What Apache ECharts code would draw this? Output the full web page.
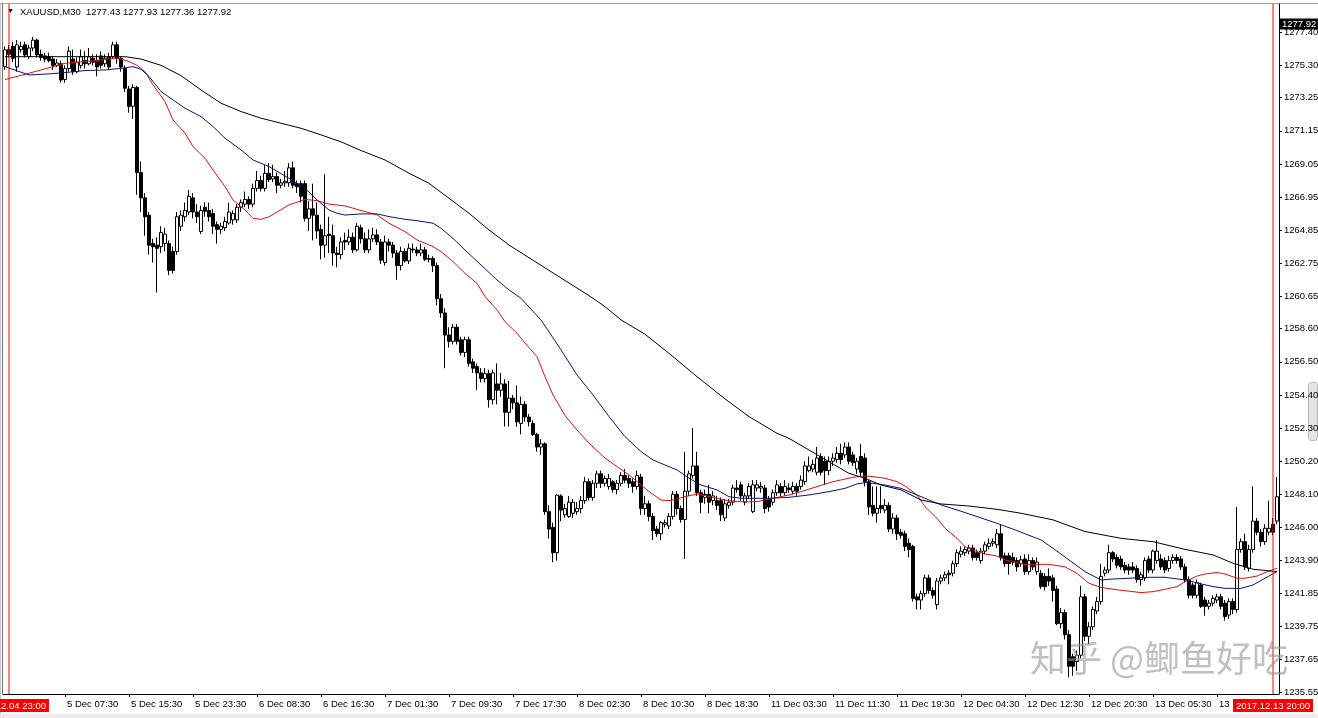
<!DOCTYPE html>
<html><head><meta charset="utf-8">
<script src="https://cdn.jsdelivr.net/npm/echarts@6/dist/echarts.min.js"></script>
<style>html,body{margin:0;padding:0;background:#fff;overflow:hidden}#c{width:1318px;height:718px}</style>
</head><body><div id="c"></div>
<script>
// ---------- DATA ----------
const symbolName = 'XAUUSD,M30';
const headerOHLC = ['1277.43', '1277.93', '1277.36', '1277.92'];
const bidPrice = 1277.92;

// time-axis labels, one every 16 bars starting at bar 15
const timeLabels = ['5 Dec 07:30','5 Dec 15:30','5 Dec 23:30','6 Dec 08:30','6 Dec 16:30','7 Dec 01:30','7 Dec 09:30','7 Dec 17:30','8 Dec 02:30','8 Dec 10:30','8 Dec 18:30','11 Dec 03:30','11 Dec 11:30','11 Dec 19:30','12 Dec 04:30','12 Dec 12:30','12 Dec 20:30','13 Dec 05:30','13 Dec 13:30'];
const firstLabelBar = 15, labelStep = 16;

// price-axis tick labels
const priceTicks = ['1235.55','1237.65','1239.75','1241.85','1243.90','1246.00','1248.10','1250.20','1252.30','1254.40','1256.50','1258.60','1260.65','1262.75','1264.85','1266.95','1269.05','1271.15','1273.25','1275.30','1277.40'];
const yMin = 1235.44, yMax = 1279.19;

// vertical line objects (bar index, label)
const vLineBars = [1, 317];
const vLineLabels = ['2017.12.04 23:00', '2017.12.13 20:00'];

const opens = [
1275.22,1276.3,1276.5,1275.2,1276.3,1276.6,1275.85,1276.4,1276.9,1276.0,1275.9,1275.85,1275.7,1275.3,1275.4,1274.4,
1275.1,1275.7,1274.9,1275.3,1275.6,1275.4,1275.75,1275.6,1275.9,1275.4,1275.85,1275.85,1276.6,1275.75,1275.1,1273.8,
1272.7,1273.9,1268.5,1266.9,1265.8,1264.0,1263.9,1263.8,1264.0,1264.0,1263.5,1263.5,1265.1,1265.7,1266.0,1266.9,
1266.0,1264.76,1266.3,1266.1,1265.9,1265.2,1264.9,1265.0,1265.3,1265.5,1265.5,1266.3,1266.5,1266.8,1266.5,1267.5,
1268.0,1267.5,1268.45,1268.1,1268.25,1267.7,1267.85,1267.85,1268.8,1267.8,1267.8,1267.8,1265.6,1266.2,1265.8,1264.9,
1263.9,1264.6,1264.5,1263.4,1263.3,1264.2,1264.1,1264.4,1263.6,1265.0,1264.3,1263.6,1264.3,1264.55,1264.1,1262.8,
1264.1,1263.9,1263.4,1262.6,1263.5,1262.9,1263.65,1263.6,1263.4,1263.6,1263.05,1263.05,1262.6,1260.5,1259.6,1258.2,
1257.8,1258.7,1257.9,1257.1,1257.9,1256.5,1256.2,1255.8,1255.45,1255.75,1254.1,1255.1,1254.7,1255.1,1253.3,1254.2,
1253.9,1252.6,1253.8,1253.0,1252.6,1251.9,1251.1,1251.3,1247.0,1246.0,1244.4,1248.0,1246.8,1246.7,1246.9,1247.0,
1247.2,1247.7,1248.9,1247.9,1248.8,1249.4,1248.8,1248.6,1248.9,1248.4,1248.8,1249.3,1249.1,1248.9,1248.6,1249.2,
1247.2,1247.5,1246.7,1245.9,1245.6,1246.2,1246.1,1246.7,1248.1,1247.2,1246.5,1248.3,1249.3,1249.9,1248.2,1247.9,
1248.1,1247.7,1247.7,1247.7,1246.6,1247.4,1247.6,1248.5,1248.7,1247.6,1248.0,1247.0,1248.5,1248.5,1248.5,1247.8,
1247.6,1248.2,1248.6,1248.2,1248.5,1248.3,1248.6,1248.6,1248.9,1249.6,1249.7,1249.5,1250.5,1250.2,1249.6,1250.2,
1250.3,1250.7,1250.6,1251.1,1250.6,1249.7,1250.5,1250.4,1248.9,1247.4,1246.9,1247.4,1247.1,1247.4,1245.9,1246.6,
1245.7,1245.6,1245.0,1244.8,1241.6,1241.4,1241.8,1242.8,1242.0,1241.1,1242.6,1242.8,1243.1,1243.1,1243.7,1244.3,
1244.4,1244.5,1244.7,1244.4,1243.9,1244.5,1244.8,1245.0,1244.9,1245.6,1244.2,1244.2,1244.1,1243.9,1243.7,1244.0,
1243.2,1243.9,1243.2,1243.1,1242.9,1242.9,1242.8,1242.1,1239.9,1240.6,1239.2,1237.8,1237.5,1237.9,1241.6,1239.1,
1239.7,1240.7,1241.3,1243.1,1243.3,1244.4,1244.1,1244.0,1243.6,1243.5,1243.5,1243.4,1242.7,1242.8,1244.0,1243.3,
1243.9,1244.0,1243.9,1243.4,1243.9,1244.1,1244.0,1243.5,1242.7,1242.35,1241.7,1242.35,1241.4,1241.0,1241.2,1241.4,
1241.6,1241.2,1240.45,1241.3,1240.8,1244.6,1245.1,1243.4,1244.6,1246.4,1245.7,1245.1,1245.7,1246.2,1246.4];

const highs = [
1276.5,1276.6,1276.8,1276.9,1276.8,1276.8,1276.6,1277.1,1277.0,1276.3,1276.1,1276.1,1275.9,1275.7,1275.6,1275.3,
1276.5,1276.3,1275.8,1276.3,1276.2,1276.4,1276.0,1276.0,1276.2,1276.0,1276.1,1276.8,1276.8,1275.9,1275.3,1274.0,
1274.1,1274.0,1269.2,1267.2,1266.0,1264.3,1264.4,1265.1,1265.0,1264.2,1263.8,1266.0,1266.1,1266.6,1267.4,1267.2,
1266.5,1266.4,1266.6,1266.6,1266.2,1265.4,1265.3,1265.7,1266.6,1266.1,1266.5,1266.8,1267.3,1267.0,1267.8,1268.6,
1268.3,1269.0,1269.1,1269.0,1268.5,1268.1,1268.6,1269.1,1269.2,1268.0,1268.0,1268.0,1266.7,1267.8,1266.6,1265.2,
1268.4,1265.7,1265.2,1263.8,1264.4,1264.7,1264.9,1264.7,1265.3,1265.2,1264.7,1264.9,1265.0,1264.9,1264.3,1264.5,
1264.3,1264.1,1263.6,1263.8,1263.7,1264.0,1264.0,1263.8,1264.0,1263.8,1263.3,1263.2,1262.8,1260.8,1259.9,1258.7,
1258.9,1258.9,1258.1,1258.1,1258.1,1256.7,1256.4,1256.1,1256.1,1256.0,1256.0,1256.4,1255.8,1255.4,1255.3,1254.4,
1255.0,1254.3,1254.0,1253.2,1252.8,1252.0,1251.6,1251.4,1247.4,1246.3,1248.1,1248.1,1247.5,1248.0,1247.8,1247.6,
1248.0,1249.2,1249.1,1249.0,1249.6,1249.6,1249.3,1249.4,1249.0,1249.0,1249.5,1249.7,1249.3,1249.1,1249.6,1249.4,
1248.0,1247.7,1246.9,1246.1,1246.4,1246.5,1246.9,1248.3,1248.3,1247.4,1250.8,1249.6,1252.3,1250.8,1248.4,1248.4,
1248.7,1248.3,1248.0,1247.9,1247.8,1247.8,1248.7,1249.0,1248.9,1248.2,1248.8,1249.0,1249.0,1248.9,1248.7,1248.0,
1248.4,1249.0,1248.8,1249.0,1248.8,1248.9,1248.8,1249.3,1250.2,1250.5,1250.3,1251.1,1250.7,1250.5,1250.5,1250.7,
1251.1,1251.3,1251.4,1251.4,1250.8,1250.4,1251.3,1250.7,1249.0,1248.6,1248.6,1248.6,1247.8,1247.6,1246.9,1246.8,
1245.9,1245.8,1245.3,1244.9,1241.8,1242.0,1243.0,1243.0,1242.2,1242.8,1243.0,1243.2,1243.3,1243.9,1244.6,1244.8,
1244.8,1244.9,1244.9,1244.6,1244.7,1245.1,1245.3,1245.3,1245.9,1246.2,1244.4,1244.4,1244.4,1244.1,1244.2,1244.3,
1244.3,1244.1,1244.1,1243.3,1243.1,1243.4,1243.0,1242.3,1240.9,1240.8,1239.5,1238.0,1238.2,1242.3,1241.8,1240.0,
1241.0,1241.6,1243.7,1243.5,1244.9,1244.5,1244.3,1244.2,1243.8,1243.7,1243.8,1243.6,1243.2,1244.1,1244.2,1244.6,
1245.2,1244.3,1244.1,1244.2,1244.3,1244.3,1244.2,1243.7,1242.9,1242.5,1242.7,1242.5,1241.6,1241.4,1241.7,1241.8,
1241.8,1241.4,1241.5,1241.5,1247.3,1245.3,1245.6,1244.9,1248.6,1246.6,1245.9,1246.2,1247.7,1246.6,1249.2];

const lows = [
1275.0,1275.8,1275.5,1274.9,1276.1,1275.8,1275.7,1276.2,1275.8,1275.6,1275.5,1275.5,1275.0,1275.2,1274.2,1274.2,
1274.9,1274.7,1274.8,1275.1,1275.1,1275.3,1275.3,1274.6,1275.1,1275.2,1275.0,1275.7,1275.4,1274.9,1273.6,1272.3,
1271.9,1267.1,1266.0,1264.5,1263.3,1262.8,1260.9,1263.4,1263.5,1262.0,1262.1,1263.3,1264.8,1265.4,1265.8,1265.6,
1265.3,1264.6,1265.7,1265.4,1264.6,1264.0,1264.6,1264.8,1265.2,1265.2,1265.3,1266.0,1266.3,1266.2,1266.3,1267.3,
1267.3,1267.3,1267.9,1267.9,1267.2,1267.5,1267.6,1267.6,1267.5,1267.2,1266.6,1265.4,1264.8,1264.2,1264.3,1263.0,
1263.1,1263.4,1262.6,1262.5,1263.0,1263.6,1263.9,1263.4,1263.5,1264.0,1263.4,1263.4,1264.1,1263.9,1262.7,1262.6,
1263.5,1263.1,1261.7,1262.3,1262.8,1262.7,1263.4,1263.2,1263.2,1262.9,1262.8,1262.2,1260.1,1259.3,1256.1,1257.4,
1257.6,1257.6,1256.9,1256.8,1256.2,1255.8,1254.7,1255.2,1255.2,1253.6,1253.8,1253.8,1254.3,1252.4,1252.4,1253.5,
1252.4,1251.9,1252.7,1252.4,1251.8,1250.8,1250.6,1246.8,1245.3,1243.8,1243.9,1246.4,1246.6,1246.6,1246.6,1246.8,
1246.9,1247.5,1247.7,1247.7,1248.5,1248.5,1248.6,1248.4,1248.2,1248.1,1248.6,1248.8,1248.5,1248.2,1248.4,1246.8,
1246.8,1246.4,1245.2,1245.4,1245.2,1246.0,1245.9,1246.5,1246.8,1246.3,1244.0,1248.0,1249.1,1248.0,1246.9,1247.5,
1246.9,1247.4,1247.1,1246.4,1246.4,1247.2,1247.4,1248.2,1247.7,1247.4,1247.8,1246.9,1248.3,1248.2,1246.9,1247.0,
1247.4,1248.0,1248.0,1248.0,1248.2,1248.1,1248.0,1248.4,1248.7,1249.5,1249.5,1249.3,1249.3,1248.7,1249.3,1249.9,
1250.1,1250.0,1250.4,1250.0,1249.9,1249.4,1249.2,1248.6,1246.8,1246.7,1246.3,1246.9,1246.9,1245.7,1245.6,1245.2,
1245.3,1244.5,1244.1,1241.3,1240.8,1240.8,1241.6,1241.8,1241.5,1240.8,1242.4,1242.6,1242.4,1242.9,1243.5,1244.1,
1244.2,1244.3,1243.9,1243.9,1243.7,1244.3,1244.6,1244.8,1244.7,1243.9,1243.5,1243.0,1243.6,1243.2,1243.5,1243.0,
1243.0,1243.3,1243.0,1242.1,1242.0,1242.3,1241.3,1239.8,1239.6,1238.9,1236.5,1236.6,1236.9,1237.7,1238.8,1238.6,
1239.5,1240.5,1241.1,1242.9,1243.1,1243.8,1243.4,1243.3,1243.1,1243.0,1243.1,1242.5,1242.3,1242.6,1243.1,1243.1,
1243.7,1243.3,1243.1,1243.2,1243.7,1243.7,1243.3,1242.5,1241.5,1241.5,1241.5,1240.9,1240.4,1240.8,1241.0,1241.2,
1240.8,1240.1,1240.2,1240.5,1240.6,1244.4,1243.3,1243.2,1244.4,1245.5,1244.8,1244.9,1245.5,1245.5,1246.2];

const closes = [
1276.28,1276.0,1275.75,1276.6,1276.5,1275.96,1276.4,1276.9,1275.96,1275.8,1275.7,1275.6,1275.3,1275.45,1274.37,1275.1,
1276.2,1274.9,1275.5,1275.85,1275.4,1275.85,1275.5,1275.2,1275.3,1275.75,1275.2,1276.6,1275.75,1275.2,1273.85,1272.7,
1273.9,1268.5,1266.9,1265.7,1263.9,1263.8,1263.7,1264.7,1264.6,1262.3,1262.3,1265.7,1265.8,1266.1,1267.0,1266.0,
1265.7,1266.1,1266.05,1265.7,1265.1,1264.9,1265.1,1265.4,1266.0,1265.9,1266.3,1266.6,1266.8,1266.5,1267.5,1268.0,
1267.5,1268.45,1268.05,1268.25,1267.7,1267.85,1267.95,1268.8,1267.7,1267.6,1267.0,1265.6,1266.2,1265.8,1264.8,1263.9,
1264.5,1264.5,1263.4,1263.3,1264.1,1264.1,1264.4,1263.6,1265.1,1264.3,1263.6,1264.3,1264.55,1264.1,1262.95,1264.1,
1263.9,1263.4,1262.6,1263.5,1262.9,1263.7,1263.6,1263.4,1263.6,1263.0,1263.0,1262.6,1260.5,1259.6,1258.2,1257.8,
1258.7,1257.8,1257.1,1257.9,1256.4,1256.1,1255.8,1255.45,1255.75,1254.1,1255.8,1254.7,1255.1,1253.3,1254.2,1253.9,
1252.7,1253.8,1253.0,1252.7,1251.9,1251.1,1251.3,1247.0,1245.9,1244.4,1248.05,1247.1,1247.2,1247.6,1247.6,1247.2,
1247.7,1248.9,1247.9,1248.8,1249.4,1248.8,1249.1,1249.1,1248.4,1248.8,1249.3,1249.0,1248.8,1248.6,1249.3,1247.2,
1247.5,1246.7,1245.8,1245.6,1246.3,1246.3,1246.7,1248.1,1247.2,1246.5,1248.3,1249.4,1249.9,1248.2,1247.6,1248.1,
1247.6,1248.0,1247.4,1246.8,1247.5,1247.6,1248.5,1248.4,1248.0,1248.0,1248.6,1248.7,1248.7,1248.6,1247.2,1247.3,
1248.2,1248.7,1248.2,1248.6,1248.4,1248.6,1248.3,1249.0,1249.9,1249.9,1250.0,1250.4,1249.5,1249.6,1250.2,1250.4,
1250.7,1250.3,1251.1,1250.2,1250.1,1250.2,1249.5,1248.9,1247.3,1246.9,1247.2,1247.2,1247.4,1245.9,1246.6,1245.6,
1245.5,1244.8,1244.6,1241.5,1241.4,1241.8,1242.8,1242.0,1241.7,1242.6,1242.8,1243.0,1243.0,1243.7,1244.4,1244.5,
1244.6,1244.7,1244.1,1244.1,1244.5,1244.9,1245.0,1245.1,1245.6,1244.1,1243.7,1243.7,1243.8,1243.5,1243.95,1243.2,
1243.9,1243.5,1243.8,1242.25,1242.25,1242.6,1242.0,1239.9,1240.6,1239.2,1237.2,1237.2,1237.9,1241.6,1239.1,1239.7,
1240.8,1241.3,1242.9,1243.3,1244.4,1244.0,1243.6,1243.5,1243.3,1243.3,1243.3,1242.7,1243.0,1243.9,1243.3,1244.5,
1244.5,1243.5,1243.3,1243.9,1244.1,1243.9,1243.5,1242.7,1241.7,1241.7,1242.5,1241.0,1241.0,1241.2,1241.5,1241.6,
1241.0,1240.35,1241.3,1240.8,1244.6,1245.1,1243.5,1244.6,1246.4,1245.7,1245.1,1245.95,1245.95,1245.7,1247.95];

// moving averages: [bar index, price]
const maRed = [[0,1274.4],[6,1274.8],[12,1275.22],[15,1275.43],[20,1275.54],[24,1275.64],[27,1275.75],[29,1275.7],[31,1275.54],[33,1275.3],[35,1274.9],[37,1274.06],[40,1273.0],[42,1271.84],[45,1271.0],[47,1270.15],[50,1269.41],[52,1268.67],[55,1267.61],[57,1266.77],[60,1266.13],[62,1265.6],[64,1265.54],[66,1265.7],[68,1266.0],[71,1266.45],[75,1266.8],[78,1266.72],[81,1266.5],[85,1266.39],[88,1266.17],[90,1266.03],[93,1265.82],[96,1265.29],[100,1264.76],[103,1264.23],[107,1263.81],[109,1263.49],[112,1262.86],[115,1262.11],[118,1261.48],[120,1260.64],[123,1259.79],[125,1259.05],[128,1258.31],[130,1257.7],[133,1256.83],[135,1255.56],[137,1254.4],[140,1253.1],[143,1252.18],[146,1251.34],[150,1250.4],[153,1249.86],[156,1249.33],[159,1248.7],[161,1248.27],[164,1247.74],[166,1247.7],[168,1247.81],[170,1247.95],[173,1248.12],[175,1248.02],[178,1247.85],[180,1247.74],[183,1247.64],[186,1247.62],[188,1247.64],[190,1247.74],[193,1247.9],[196,1248.06],[199,1248.27],[203,1248.59],[207,1248.9],[212,1249.18],[215,1249.27],[217,1249.22],[220,1249.12],[223,1248.9],[225,1248.63],[228,1248.06],[230,1247.32],[233,1246.58],[235,1245.95],[238,1245.31],[240,1244.78],[243,1244.47],[245,1244.32],[248,1244.19],[250,1243.94],[253,1243.79],[255,1243.66],[261,1243.66],[265,1243.5],[268,1243.09],[271,1242.46],[274,1242.2],[277,1242.08],[280,1241.99],[284,1241.87],[287,1241.93],[290,1242.08],[293,1242.25],[295,1242.56],[298,1242.92],[300,1243.05],[303,1243.14],[305,1243.05],[308,1242.78],[310,1242.78],[313,1242.92],[315,1243.14],[318,1243.41]];
const maBlue = [[0,1275.22],[6,1274.69],[11,1274.76],[15,1274.84],[20,1274.97],[25,1275.01],[29,1275.11],[32,1275.22],[34,1275.05],[36,1274.6],[39,1273.64],[42,1273.11],[45,1272.58],[49,1272.05],[52,1271.42],[55,1270.68],[59,1269.94],[62,1269.3],[66,1268.88],[71,1268.14],[75,1267.5],[78,1266.77],[81,1266.13],[83,1265.92],[85,1265.81],[89,1265.88],[93,1265.88],[96,1265.71],[100,1265.54],[103,1265.45],[107,1265.29],[109,1264.97],[112,1264.33],[115,1263.59],[119,1262.64],[123,1261.69],[126,1261.06],[129,1260.53],[132,1259.7],[134,1259.16],[139,1257.26],[143,1255.67],[147,1254.4],[151,1253.03],[155,1251.76],[159,1250.81],[162,1250.28],[165,1249.96],[168,1249.65],[171,1249.12],[174,1248.69],[178,1248.38],[181,1247.95],[184,1247.85],[188,1247.85],[191,1247.85],[196,1247.91],[201,1248.06],[206,1248.27],[210,1248.48],[213,1248.76],[215,1248.84],[217,1248.8],[220,1248.69],[224,1248.48],[228,1248.06],[231,1247.74],[234,1247.43],[238,1247.11],[243,1246.69],[248,1246.26],[253,1245.8],[256,1245.5],[259,1245.21],[262,1244.68],[266,1243.94],[270,1243.2],[274,1242.67],[277,1242.73],[281,1242.78],[286,1242.84],[290,1242.84],[295,1242.67],[299,1242.42],[302,1242.25],[305,1242.14],[309,1242.14],[312,1242.35],[315,1242.78],[318,1243.2]];
const maBlack = [[0,1275.85],[15,1275.85],[30,1275.85],[34,1275.7],[39,1275.3],[44,1274.65],[49,1273.74],[54,1272.9],[59,1272.37],[64,1271.95],[69,1271.63],[74,1271.31],[79,1270.89],[84,1270.45],[89,1269.9],[95,1269.3],[101,1268.46],[106,1267.82],[111,1266.87],[116,1265.92],[121,1264.86],[126,1263.91],[131,1263.1],[136,1262.3],[141,1261.5],[146,1260.7],[150,1260.0],[154,1259.16],[160,1258.25],[166,1257.04],[173,1255.56],[180,1254.15],[186,1253.03],[193,1251.97],[196,1251.65],[201,1250.91],[206,1250.17],[211,1249.43],[215,1249.12],[219,1248.69],[224,1248.38],[229,1247.74],[234,1247.49],[241,1247.36],[248,1247.15],[254,1246.9],[262,1246.48],[270,1245.74],[279,1245.31],[287,1245.1],[295,1244.61],[302,1244.26],[307,1243.73],[312,1243.35],[318,1243.2]];

// ---------- CHART ----------
const FONT = '"Liberation Sans", Arial, sans-serif';
const RED = '#ff0000';
const categories = opens.map((_, i) => String(i));
function labelFor(i) {
  const k = (i - firstLabelBar) / labelStep;
  return (Number.isInteger(k) && k >= 0 && k < timeLabels.length) ? timeLabels[k] : '';
}
const candleData = opens.map((o, i) => [o, closes[i], lows[i], highs[i]]);
const tickValues = priceTicks.map(Number);

const chart = echarts.init(document.getElementById('c'), null, {renderer: 'canvas'});
const lineSeries = (name, data, color, extra) => Object.assign({
  name, type: 'line', data, showSymbol: false, symbol: 'none', smooth: false, color,
  lineStyle: {color, width: 1}, itemStyle: {color}, z: 3, silent: true
}, extra || {});
const vLabel = (text) => ({show: true, position: 'start', distance: 5, formatter: text, color: '#fff', backgroundColor: '#ff0000',
  padding: [2, 3, 1, 3], fontSize: 9.5, fontFamily: FONT});

// vertical lines drawn as two-point line series at their bar index
const vLineSeries = vLineBars.map((b, k) => ({
  type: 'line', data: [[b, yMin], [b, yMax]], silent: true, z: 4,
  showSymbol: k === 0, symbol: 'emptyRect', symbolSize: 5,
  lineStyle: {color: RED, width: 1}, itemStyle: {color: RED, borderColor: RED},
  markLine: {
    silent: true, animation: false, symbol: ['none', 'none'],
    lineStyle: {color: 'rgba(0,0,0,0)', width: 0},
    data: [{xAxis: b, label: vLabel(vLineLabels[k])}]
  }
}));

chart.setOption({
  animation: false,
  backgroundColor: '#fff',
  grid: {left: 3, right: 39, top: 4, bottom: 24, containLabel: false, outerBoundsMode: 'none'},
  xAxis: {
    type: 'category', data: categories, boundaryGap: true,
    axisLine: {show: true, lineStyle: {color: '#000', width: 1}},
    axisTick: {show: true, alignWithLabel: true, length: 3, interval: (i) => labelFor(i) !== '', lineStyle: {color: '#000'}},
    axisLabel: {show: true, interval: (i) => labelFor(i) !== '', formatter: (v, i) => labelFor(i),
      align: 'left', padding: [0, 0, 0, 2], margin: 5, color: '#000', fontSize: 9.5, fontFamily: FONT},
    splitLine: {show: false}
  },
  yAxis: {
    type: 'value', position: 'right', min: yMin, max: yMax, scale: true,
    axisLine: {show: true, lineStyle: {color: '#000', width: 1}},
    axisTick: {show: true, length: 3, customValues: tickValues, lineStyle: {color: '#000'}},
    axisLabel: {show: true, customValues: tickValues, formatter: (v) => v.toFixed(2), margin: 5,
      color: '#000', fontSize: 9.5, fontFamily: FONT},
    splitLine: {show: false}
  },
  series: [
    {
      type: 'candlestick', data: candleData, barWidth: 3, z: 2, silent: true,
      itemStyle: {color: '#ffffff', color0: '#000000', borderColor: '#000000', borderColor0: '#000000', borderWidth: 1},
      markLine: {
        silent: true, animation: false, symbol: ['none', 'none'],
        data: [{yAxis: bidPrice,
          lineStyle: {color: 'rgba(0,0,0,0)', width: 0},
          label: {show: true, position: 'end', distance: 1, formatter: bidPrice.toFixed(2), color: '#fff', backgroundColor: '#000',
                  padding: [1, 2, 0, 2], fontSize: 9.5, fontFamily: FONT}}]
      }
    },
    lineSeries('MA fast', maRed, '#e01010'),
    lineSeries('MA mid', maBlue, '#10107a'),
    lineSeries('MA slow', maBlack, '#000000')
  ].concat(vLineSeries),
  graphic: [
    {type: 'line', shape: {x1: 0, y1: 3.5, x2: 1318, y2: 3.5}, style: {stroke: '#a0a0a0', lineWidth: 1}, silent: true},
    {type: 'line', shape: {x1: 0.5, y1: 3, x2: 0.5, y2: 718}, style: {stroke: '#c8c8c8', lineWidth: 1}, silent: true},
    {type: 'line', shape: {x1: 2.5, y1: 3, x2: 2.5, y2: 694}, style: {stroke: '#707070', lineWidth: 1}, silent: true},
    {type: 'rect', shape: {x: 0, y: 714, width: 1318, height: 4}, style: {fill: '#ececec'}, silent: true},
    {type: 'text', left: 7, top: 8, style: {text: '▼', font: '7px ' + FONT, fill: '#000'}, silent: true},
    {type: 'text', left: 20, top: 7, style: {text: symbolName + '  ' + headerOHLC.join(' '), font: '9.5px ' + FONT, fill: '#000'}, silent: true},
    {type: 'rect', shape: {x: 1308.5, y: 382.5, width: 9, height: 58, r: 3}, style: {fill: '#e4e4e4', stroke: '#b4b4b4', lineWidth: 1}, silent: true},
    {type: 'text', left: 1030, top: 640, z: 100, style: {text: '知乎 @鲫鱼好吃', font: '36px "Noto Sans CJK SC"', fill: 'rgba(150,150,150,0.6)'}, silent: true}
  ]
});
</script></body></html>
